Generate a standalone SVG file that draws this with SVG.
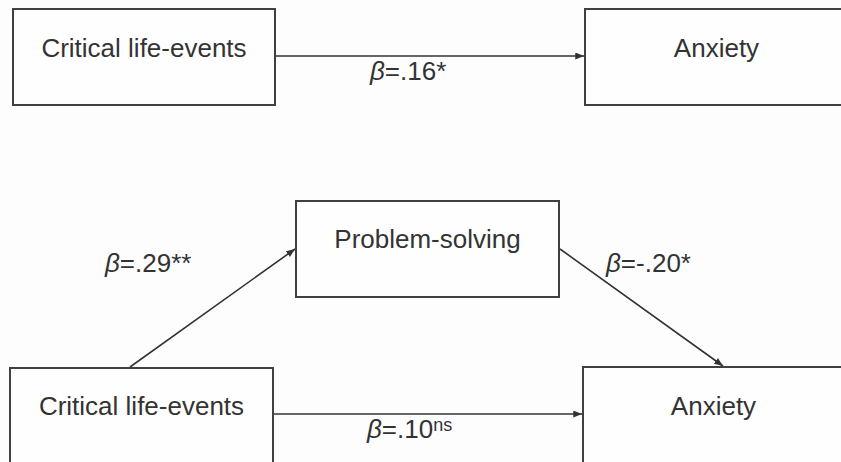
<svg xmlns="http://www.w3.org/2000/svg" width="841" height="462" viewBox="0 0 841 462">
  <style>
    .box { fill: #fefefe; stroke: #404040; stroke-width: 2; }
    .lbl { font-family: "Liberation Sans", Arial, sans-serif; font-size: 26px; fill: #333333; }
    .mid { text-anchor: middle; }
    .edge { stroke: #333333; stroke-width: 1.6; fill: none; marker-end: url(#arrow); }
    .beta { font-style: italic; }
    .sup { font-size: 18px; }
  </style>
  <defs>
    <marker id="arrow" viewBox="0 0 10 8" refX="10" refY="4" markerUnits="userSpaceOnUse" markerWidth="9" markerHeight="7" orient="auto">
      <path d="M0,0 L10,4 L0,8 Z" fill="#333333"/>
    </marker>
  </defs>
  <rect width="841" height="462" fill="#fdfdfd"/>

  <!-- Total effect model -->
  <g id="cle-top">
    <rect class="box" x="13" y="9" width="262" height="96"/>
    <text class="lbl mid" x="144" y="57">Critical life-events</text>
  </g>
  <g id="anx-top">
    <rect class="box" x="585" y="9" width="263" height="96"/>
    <text class="lbl mid" x="716.5" y="57">Anxiety</text>
  </g>

  <!-- Mediation model -->
  <g id="ps">
    <rect class="box" x="296" y="201" width="263" height="96"/>
    <text class="lbl mid" x="427.5" y="248">Problem-solving</text>
  </g>
  <g id="cle-bottom">
    <rect class="box" x="10" y="368" width="263" height="100"/>
    <text class="lbl mid" x="141.5" y="415">Critical life-events</text>
  </g>
  <g id="anx-bottom">
    <rect class="box" x="583" y="367" width="263" height="100"/>
    <text class="lbl mid" x="713.5" y="415">Anxiety</text>
  </g>

  <g id="connectors">
    <line class="edge" x1="276" y1="56" x2="584" y2="56"/>
    <line class="edge" x1="130" y1="367" x2="295" y2="249"/>
    <line class="edge" x1="560" y1="249" x2="723" y2="366"/>
    <line class="edge" x1="274" y1="414" x2="582" y2="414"/>
  </g>

  <g id="labels">
    <text class="lbl" x="370" y="80"><tspan class="beta">β</tspan>=.16*</text>
    <text class="lbl" x="105" y="272"><tspan class="beta">β</tspan>=.29**</text>
    <text class="lbl" x="606" y="272"><tspan class="beta">β</tspan>=-.20*</text>
    <text class="lbl" x="367" y="438"><tspan class="beta">β</tspan>=.10<tspan class="sup" dy="-7">ns</tspan></text>
  </g>
</svg>
